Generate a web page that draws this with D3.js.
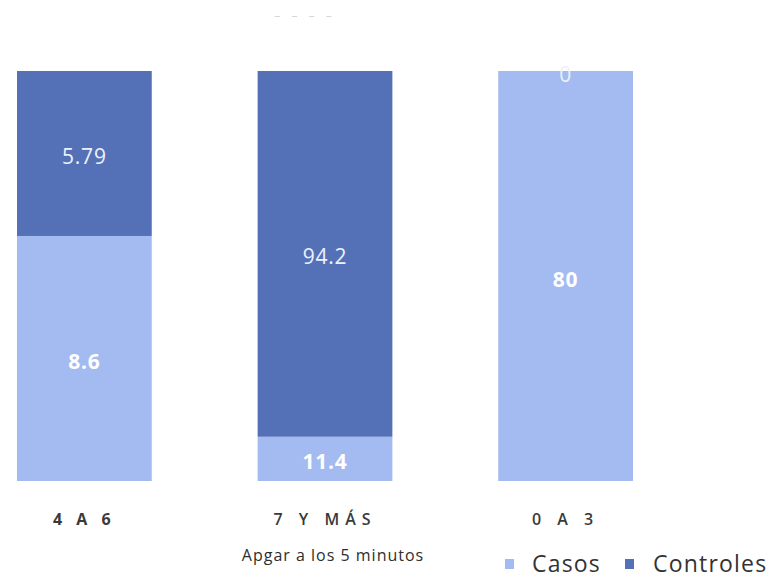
<!DOCTYPE html>
<html>
<head>
<meta charset="utf-8">
<script src="https://cdn.jsdelivr.net/npm/d3@7"></script>
<style>
  html, body { margin: 0; padding: 0; background: #ffffff; }
  svg { display: block; font-family: "Open Sans", "Noto Sans", sans-serif; }
</style>
</head>
<body>
<svg id="chart" width="783" height="578"></svg>
<script>
// Apgar score groups and the values for each series
const categories = ["4 A 6", "7 Y MÁS", "0 A 3"];
const casos = [8.6, 11.4, 80];
const controles = [5.79, 94.2, 0];
const seriesNames = ["Casos", "Controles"];
const seriesColors = ["#a3bbf0", "#5471b8"];
const axisTitle = "Apgar a los 5 minutos";

const rows = categories.map((c, i) => ({ cat: c, Casos: casos[i], Controles: controles[i] }));

const svg = d3.select("#chart");

const x = d3.scaleBand().domain(categories).range([17, 633]).paddingInner(0.44).paddingOuter(0);
const y = d3.scaleLinear().domain([0, 1]).range([481, 71]);
const color = d3.scaleOrdinal().domain(seriesNames).range(seriesColors);

// 100% stacked layout
const stack = d3.stack().keys(seriesNames).offset(d3.stackOffsetExpand);
const layers = stack(rows);

// faint heading dashes
svg.append("text")
  .attr("x", 305).attr("y", 20)
  .attr("text-anchor", "middle")
  .attr("fill", "#d6d6d6")
  .attr("font-size", 12)
  .attr("letter-spacing", 4)
  .text("– – – –");

const g = svg.append("g");
layers.forEach(layer => {
  g.selectAll(null).data(layer).enter().append("rect")
    .attr("x", d => x(d.data.cat))
    .attr("width", x.bandwidth())
    .attr("y", d => y(d[1]))
    .attr("height", d => y(d[0]) - y(d[1]))
    .attr("fill", color(layer.key));
});

// value labels centred on each segment
layers.forEach(layer => {
  g.selectAll(null).data(layer).enter().append("text")
    .attr("x", d => x(d.data.cat) + x.bandwidth() / 2)
    .attr("y", d => (y(d[0]) + y(d[1])) / 2)
    .attr("dy", "0.5em")
    .attr("text-anchor", "middle")
    .attr("fill", layer.key === "Casos" ? "#ffffff" : "#eef1fb")
    .attr("font-size", 21)
    .attr("font-weight", layer.key === "Casos" ? 700 : 500)
    .attr("letter-spacing", 0.8)
    .text(d => d.data[layer.key]);
});

// category axis
const xAxis = svg.append("g")
  .attr("transform", "translate(0,481)")
  .call(d3.axisBottom(x).tickSize(0).tickPadding(33));
xAxis.select(".domain").remove();
xAxis.selectAll("text")
  .attr("font-family", "\"Open Sans\", sans-serif")
  .attr("font-size", 16)
  .attr("letter-spacing", (d, i) => i === 0 ? 5 : 6)
  .attr("fill", "#3a3a3a")
  .attr("font-weight", (d, i) => i === 0 ? 700 : 600);

// axis title
svg.append("text")
  .attr("x", 333).attr("y", 561)
  .attr("text-anchor", "middle")
  .attr("fill", "#2e2e2e")
  .attr("font-size", 16)
  .attr("font-weight", 500)
  .attr("letter-spacing", 1)
  .text(axisTitle);

// legend
const legendX = [505, 625];
const legend = svg.append("g");
seriesNames.forEach((name, i) => {
  legend.append("rect")
    .attr("x", legendX[i]).attr("y", 559)
    .attr("width", 9).attr("height", 10)
    .attr("fill", color(name));
  legend.append("text")
    .attr("x", legendX[i] + (i === 0 ? 27 : 28)).attr("y", 572)
    .attr("fill", "#333333")
    .attr("font-size", 23)
    .attr("font-weight", 500)
    .attr("letter-spacing", 1.2)
    .text(name);
});
</script>
</body>
</html>
